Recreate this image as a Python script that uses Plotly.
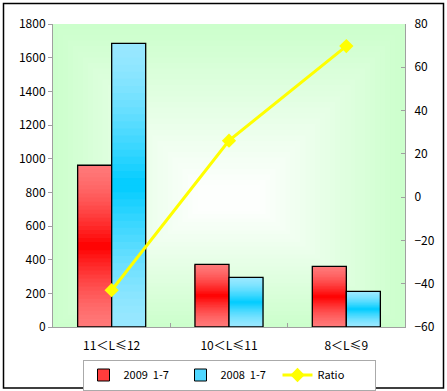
import plotly.graph_objects as go

categories = ["11＜L≤12", "10＜L≤11", "8＜L≤9"]
sales_2009 = [961, 372, 360]
sales_2008 = [1685, 295, 212]
ratio = [-43.0, 26.1, 69.8]
series_names = ["2009  1-7", "2008  1-7", "Ratio"]
left_ticks = [0, 200, 400, 600, 800, 1000, 1200, 1400, 1600, 1800]
right_ticks = [-60, -40, -20, 0, 20, 40, 60, 80]

RED_LIGHT = (255, 120, 120)
RED_DARK = (255, 0, 0)
BLUE_LIGHT = (153, 232, 255)
BLUE_DARK = (0, 204, 255)

def mix(a, b, t):
    return "rgb(%d,%d,%d)" % tuple(round(a[i] + (b[i] - a[i]) * t) for i in range(3))

fig = go.Figure()

# legend-only entries
fig.add_trace(go.Bar(x=categories, y=[None] * 3, name=series_names[0], offsetgroup="a",
                     marker=dict(color="rgb(255,60,60)", line=dict(color="black", width=1)),
                     legendrank=1))
fig.add_trace(go.Bar(x=categories, y=[None] * 3, name=series_names[1], offsetgroup="b",
                     marker=dict(color="rgb(80,215,255)", line=dict(color="black", width=1)),
                     legendrank=2))

N = 40
for vals, light, dark, grp in [(sales_2009, RED_LIGHT, RED_DARK, "a"),
                               (sales_2008, BLUE_LIGHT, BLUE_DARK, "b")]:
    for k in range(N):
        t = (k + 0.5) / N
        w = 1 - abs(2 * t - 1)
        col = mix(light, dark, w ** 1.5)
        fig.add_trace(go.Bar(
            x=categories, y=[v * (N - k) / N for v in vals], base=[v * k / N for v in vals],
            offsetgroup=grp, marker=dict(color=col, line=dict(width=0)),
            showlegend=False, hoverinfo="skip"))
    fig.add_trace(go.Bar(
        x=categories, y=vals, offsetgroup=grp,
        marker=dict(color="rgba(0,0,0,0)", line=dict(color="black", width=1.3)),
        showlegend=False))

fig.add_trace(go.Scatter(
    x=categories, y=ratio, name=series_names[2], yaxis="y2", mode="lines+markers",
    line=dict(color="#FFFF00", width=3),
    marker=dict(symbol="diamond", size=11, color="#FFFF00"),
    legendrank=3))

# background gradient (concentric rectangles from green edge to white centre)
shapes = []
M = 30
for i in range(M):
    f = i / M
    col = mix((204, 255, 204), (255, 255, 255), f)
    dx = 0.5 * f * 0.85
    yc = 0.42
    shapes.append(dict(type="rect", xref="paper", yref="paper",
                       x0=dx, x1=1 - dx, y0=yc * (f * 0.95), y1=1 - (1 - yc) * (f * 0.95),
                       fillcolor=col, line=dict(width=0), layer="below"))
# outer chart border
shapes.append(dict(type="rect", xref="paper", yref="paper",
                   x0=(3.5 - 53) / 352, x1=(443.5 - 53) / 352,
                   y0=(327 - 388) / 303, y1=(327 - 3.5) / 303,
                   line=dict(color="black", width=1.5), fillcolor="rgba(0,0,0,0)"))

font = "SimSun, 'Noto Sans CJK SC', 'DejaVu Sans', sans-serif"
fig.update_layout(
    width=447, height=391,
    margin=dict(l=53, r=42, t=24, b=64, autoexpand=False),
    paper_bgcolor="white", plot_bgcolor="rgba(0,0,0,0)",
    barmode="group", bargap=0.42, bargroupgap=0,
    font=dict(family=font, size=12, color="black"),
    showlegend=True,
    legend=dict(orientation="h", x=0.5, xanchor="center", y=(327 - 375) / 303,
                yanchor="middle", bordercolor="#AAAAAA", borderwidth=1,
                font=dict(size=11, family=font), traceorder="normal",
                entrywidth=52, tracegroupgap=0),
    xaxis=dict(showline=True, linecolor="#A0A0A0", linewidth=1, ticks="inside",
               tickson="boundaries", ticklen=4, tickcolor="#A0A0A0", showgrid=False,
               tickfont=dict(size=12), ticklabelstandoff=8),
    yaxis=dict(range=[0, 1800], tickvals=left_ticks, showline=True, linecolor="#A0A0A0",
               ticks="outside", ticklen=4, tickcolor="#A0A0A0", showgrid=False, zeroline=False,
               tickfont=dict(size=12), automargin=False),
    yaxis2=dict(range=[-60, 80], tickvals=right_ticks, overlaying="y", side="right",
                showline=True, linecolor="#A0A0A0", ticks="inside", ticklen=4,
                tickcolor="#A0A0A0", showgrid=False, zeroline=False, tickfont=dict(size=12),
                automargin=False, ticklabelstandoff=6),
    shapes=shapes,
)

fig.write_html("out.html", post_script="document.body.style.margin='0';",
               config={"displayModeBar": False})
